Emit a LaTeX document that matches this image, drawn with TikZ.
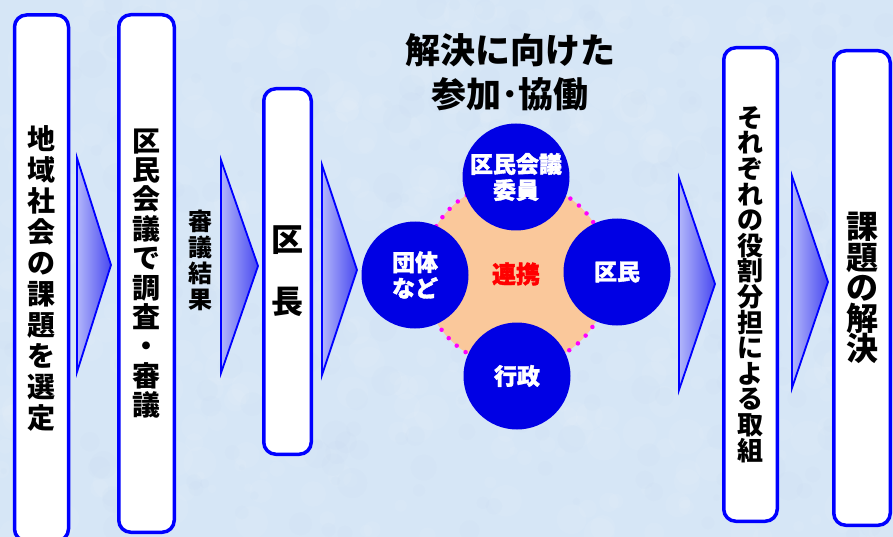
\documentclass[tikz,border=0pt]{standalone}
\usepackage{fontspec}
\newfontfamily\jp{Noto Sans CJK JP}
\newfontfamily\jpheavy{Noto Sans CJK JP}[BoldFeatures={FakeBold=1.5}]
\definecolor{bg}{RGB}{214,230,246}
\definecolor{bglight}{RGB}{236,244,252}
\definecolor{bgdark}{RGB}{196,214,238}
\definecolor{boxblue}{RGB}{0,0,255}
\definecolor{circblue}{RGB}{0,0,228}
\definecolor{orangef}{RGB}{250,200,155}
\definecolor{dotmag}{RGB}{255,0,255}
\definecolor{arrL}{RGB}{178,182,250}
\definecolor{arrR}{RGB}{72,72,240}
\definecolor{linkred}{RGB}{255,0,0}
\tikzset{
  box/.style={draw=boxblue, line width=3.5pt, fill=white, rounded corners=12pt,
    inner sep=0pt, align=center, text=black},
  chev/.style={draw=boxblue, line width=1.8pt, left color=arrL, right color=arrR, line join=miter},
  circ/.style={circle, fill=circblue, minimum size=107pt, inner sep=0pt, text=white,
    align=center, font=\jpheavy\bfseries\fontsize{23}{26}\selectfont},
  hubstyle/.style={circle, minimum size=186pt, inner sep=0pt, fill=orangef, draw=dotmag,
    line width=4.5pt, dash pattern=on 0pt off 11pt, line cap=round,
    text=linkred, font=\jpheavy\bfseries\fontsize{24}{26}\selectfont},
  vlabel/.style={align=center, text=black, inner sep=0pt}
}
\begin{document}
\begin{tikzpicture}[x=1pt,y=-1pt]
\useasboundingbox (0,0) rectangle (893,537);
\fill[bg] (0,0) rectangle (893,537);
% mottled background texture
\begin{scope}
\clip (0,0) rectangle (893,537);
\pgfmathsetseed{11}
\foreach \i in {1,...,500}{
  \pgfmathsetmacro\xx{rnd*893}
  \pgfmathsetmacro\yy{rnd*537}
  \pgfmathsetmacro\rr{4+rnd*14}
  \fill[bglight, opacity=0.13] (\xx,\yy) circle (\rr);
}
\foreach \i in {1,...,300}{
  \pgfmathsetmacro\xx{rnd*893}
  \pgfmathsetmacro\yy{rnd*537}
  \pgfmathsetmacro\rr{3+rnd*12}
  \fill[bgdark, opacity=0.10] (\xx,\yy) circle (\rr);
}
\end{scope}

% boxes
\node[box, minimum width=54pt, minimum height=526pt,
  font=\jp\bfseries\fontsize{28}{31}\selectfont] (b1) at (41.5,278)
  {地\\域\\社\\会\\の\\課\\題\\を\\選\\定};
\node[box, minimum width=55.5pt, minimum height=517.5pt,
  font=\jp\bfseries\fontsize{28}{29.4}\selectfont] (b2) at (146.5,273.5)
  {区\\民\\会\\議\\で\\調\\査\\・\\審\\議};
\node[vlabel, font=\jp\bfseries\fontsize{24}{26}\selectfont] (res) at (200,260)
  {審\\議\\結\\果};
\node[box, minimum width=47.5pt, minimum height=365.5pt,
  font=\jp\bfseries\fontsize{32}{62}\selectfont] (b3) at (287.5,271.5)
  {区\\長};
\node[box, minimum width=53.5pt, minimum height=473.5pt,
  font=\jp\bfseries\fontsize{26}{25.6}\selectfont] (b4) at (750.5,284.5)
  {そ\\れ\\ぞ\\れ\\の\\役\\割\\分\\担\\に\\よ\\る\\取\\組};
\node[box, minimum width=56.5pt, minimum height=474.5pt,
  font=\jp\bfseries\fontsize{32}{30.5}\selectfont] (b5) at (862,288)
  {課\\題\\の\\解\\決};

% chevrons
\path[chev] (77,158) -- (111,265) -- (77,372) -- cycle;
\path[chev] (221,160) -- (258,266) -- (221,373) -- cycle;
\path[chev] (322,165) -- (357,270) -- (322,375) -- cycle;
\path[chev] (679,178) -- (715,284) -- (679,390) -- cycle;
\path[chev] (792,176) -- (828,282) -- (792,388) -- cycle;

% title
\node[vlabel, font=\jp\bfseries\fontsize{35}{44}\selectfont] (title) at (510,72)
  {解決に向けた\\参加･協働};

% cooperation cluster
\node[hubstyle] (hub) at (516,274) {連携};
\node[circ] (c1) at (516,177) {区民会議\\委員};
\node[circ] (c2) at (415,275) {団体\\など};
\node[circ] (c3) at (617,272) {区民};
\node[circ] (c4) at (517,376) {行政};
\end{tikzpicture}
\end{document}
